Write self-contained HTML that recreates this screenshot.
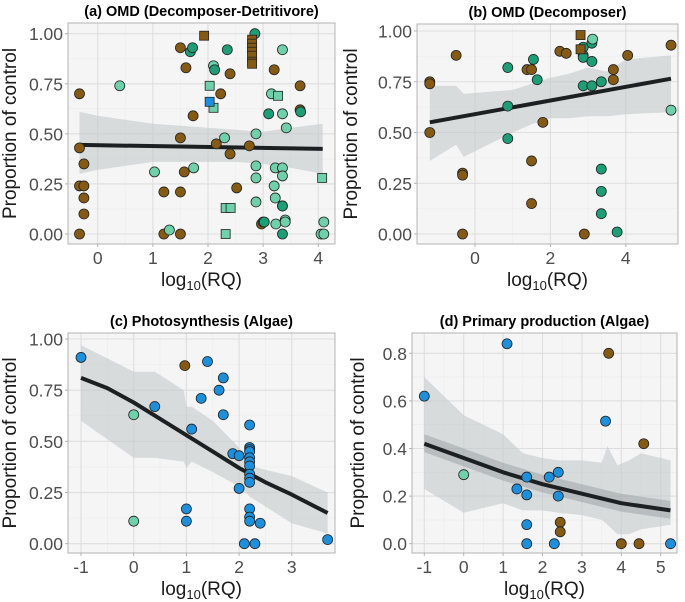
<!DOCTYPE html>
<html><head><meta charset="utf-8">
<style>
body{margin:0;background:#fff;}
svg{display:block;font-family:"Liberation Sans",sans-serif;}
</style></head>
<body>
<svg id="fig" width="685" height="602" viewBox="0 0 685 602"></svg>
<script>
// ---- Panel (a) data ----
const aBrownCircX=[-0.33,-0.33,-0.33,-0.25,-0.25,-0.25,-0.25,-0.33,1.2,1.2,1.5,1.5,1.5,1.5,1.6,1.57,1.73,2.15,2.23,2.4,2.4,2.52,2.75,2.97,3.0,3.2,3.67,3.67];
const aBrownCircY=[0.70,0.43,0.24,0.24,0.35,0.18,0.10,0,0.21,0,0.93,0.48,0.21,0,0.83,0.31,0.59,0.45,0.70,0.80,0.40,0.23,0.44,0.05,0.06,0.82,0.74,0.62];
const aTealCircX=[0.4,1.03,1.3,1.74,2.1,2.3,2.87,2.87,2.87,2.87,3.15,3.2,3.22,3.22,3.23,3.35,3.35,3.35,3.35,3.35,3.4,3.4,3.42,4.05,4.1,4.1];
const aTealCircY=[0.74,0.31,0.02,0.33,0.84,0.48,0.50,0.34,0.28,0.16,0.70,0.24,0.33,0.18,0.05,0.92,0.60,0.33,0.29,0.14,0.07,0.06,0.53,0,0,0.06];
const aGreenCircX=[1.68,1.72,2.12,2.35,2.85,3.02,3.1,3.35,3.35,3.68];
const aGreenCircY=[0.91,0.93,0.82,0.92,1.0,0.06,0.60,0,0.14,0.61];
const aBrownSqX=[1.93,2.8,2.8,2.8,2.8,2.8,2.8,2.8];
const aBrownSqY=[0.99,0.97,0.95,0.93,0.91,0.89,0.86,0.85];
const aTealSqX=[2.03,2.1,2.32,2.41,2.32,3.27,4.07];
const aTealSqY=[0.74,0.63,0.13,0.13,0,0.69,0.28];
const aBlueSqX=[2.03];
const aBlueSqY=[0.66];
const aFitX=[-0.33,4.08];
const aFitY=[0.445,0.425];
const aRibX=[-0.33,0,0.5,1,1.5,2,2.5,3,3.5,4.08];
const aRibHi=[0.61,0.59,0.57,0.55,0.54,0.53,0.52,0.51,0.53,0.55];
const aRibLo=[0.30,0.32,0.34,0.36,0.36,0.36,0.36,0.35,0.33,0.30];

// ---- Panel (b) data ----
const bBrownCircX=[-1.2,-1.2,-1.2,-0.5,-0.33,-0.33,-0.33,1.38,1.5,1.5,1.5,1.8,2.25,2.42,2.9,3.67,3.67,4.05,5.2];
const bBrownCircY=[0.75,0.74,0.50,0.88,0.30,0.29,0,0.81,0.81,0.36,0.15,0.55,0.90,0.89,0,0.81,0.76,0.88,0.93];
const bGreenCircX=[0.87,0.87,0.87,1.55,1.65,2.87,2.87,2.87,2.87,3.1,3.1,3.1,3.35,3.35,3.35,3.35,3.77];
const bGreenCircY=[0.82,0.63,0.47,0.86,0.76,0.92,0.88,0.87,0.73,0.94,0.85,0.73,0.75,0.32,0.21,0.10,0.01];
const bTealCircX=[5.2,3.12];
const bTealCircY=[0.61,0.96];
const bBrownSqX=[2.8,2.8];
const bBrownSqY=[0.98,0.91];
const bFitX=[-1.2,5.2];
const bFitY=[0.55,0.765];
const bRibX=[-1.2,-0.5,-0.3,1,1.5,2,2.5,3,3.5,4,5.2];
const bRibHi=[0.73,0.73,0.69,0.71,0.74,0.77,0.79,0.82,0.80,0.86,0.88];
const bRibLo=[0.36,0.44,0.38,0.50,0.54,0.57,0.57,0.58,0.58,0.59,0.60];

// ---- Panel (c) data ----
const cBlueCircX=[-1,0.4,1,1,1.1,1.28,1.4,1.62,1.7,1.7,1.88,2.0,2.0,2.1,2.2,2.2,2.2,2.2,2.2,2.2,2.2,2.2,2.2,2.2,2.2,2.2,2.2,2.3,2.4,3.68];
const cBlueCircY=[0.91,0.67,0.17,0.11,0.56,0.71,0.89,0.75,0.81,0.63,0.44,0.43,0.27,0,0.58,0.47,0.46,0.45,0.42,0.40,0.38,0.34,0.32,0.30,0.17,0.13,0.11,0,0.10,0.02];
const cBrownCircX=[0.97];
const cBrownCircY=[0.87];
const cTealCircX=[0,0];
const cTealCircY=[0.63,0.11];
const cFitX=[-1,-0.5,0,0.5,1,1.5,2,2.5,3,3.68];
const cFitY=[0.81,0.76,0.69,0.61,0.53,0.45,0.37,0.30,0.24,0.15];
const cRibX=[-1,0,0.4,0.95,1.0,1.1,1.5,2,2.2,3,3.68];
const cRibHi=[0.97,0.84,0.84,0.75,0.67,0.67,0.60,0.47,0.38,0.33,0.25];
const cRibLo=[0.60,0.42,0.42,0.40,0.37,0.40,0.35,0.28,0.23,0.10,0.05];

// ---- Panel (d) data ----
const dBlueCircX=[-1,1.1,1.35,1.6,1.6,1.6,1.6,2.17,2.3,2.4,2.4,3.6,5.25];
const dBlueCircY=[0.62,0.84,0.23,0.28,0.205,0.08,0,0.28,0,0.30,0.20,0.515,0];
const dBrownCircX=[2.45,2.45,3.68,4.0,4.45,4.57];
const dBrownCircY=[0.09,0.05,0.80,0,0,0.42];
const dTealCircX=[0];
const dTealCircY=[0.29];
const dFitX=[-1,0,1,2,3,4,5.25];
const dFitY=[0.42,0.36,0.30,0.25,0.21,0.17,0.14];
const dRibX=[-1,0,1,1.5,2,2.4,3,3.5,3.65,3.9,4.2,4.5,5.25];
const dRibHi=[0.70,0.54,0.46,0.38,0.36,0.35,0.35,0.34,0.41,0.33,0.35,0.38,0.35];
const dRibLo=[0.23,0.13,0.17,0.14,0.14,0.13,0.12,0.10,0.08,0.04,0.04,0.06,0.08];

const COL={brown:'#855a14',teal:'#6fd0a9',green:'#1d9e76',blue:'#1e8fdb'};
const NS='http://www.w3.org/2000/svg';
const svg=document.getElementById('fig');
function mk(tag,attrs,parent){const e=document.createElementNS(NS,tag);for(const k in attrs)e.setAttribute(k,attrs[k]);(parent||svg).appendChild(e);return e;}

function panel(cfg){
  const g=mk('g',{});
  
  
  const sx=v=>cfg.x0+v*cfg.xs;
  const sy=v=>cfg.y0-v*cfg.ys;
  const bg=mk('rect',{x:cfg.L,y:cfg.T,width:cfg.R-cfg.L,height:cfg.B-cfg.T,fill:'#f5f5f5',stroke:'none'},g);
  
  
  for(let i=0;i<cfg.xt.length-1;i++){const m=(cfg.xt[i]+cfg.xt[i+1])/2;mk('line',{x1:sx(m),x2:sx(m),y1:cfg.T,y2:cfg.B,stroke:'#ececec','stroke-width':0.6},g);}
  for(let i=0;i<cfg.yt.length-1;i++){const m=(cfg.yt[i]+cfg.yt[i+1])/2;mk('line',{x1:cfg.L,x2:cfg.R,y1:sy(m),y2:sy(m),stroke:'#ececec','stroke-width':0.6},g);}
  cfg.xt.forEach((t,i)=>{
    mk('line',{x1:sx(t),x2:sx(t),y1:cfg.T,y2:cfg.B,stroke:'#dedede','stroke-width':1.1},g);
    mk('line',{x1:sx(t),x2:sx(t),y1:cfg.B,y2:cfg.B+3,stroke:'#b3b3b3','stroke-width':1},g);
    const tx=mk('text',{x:sx(t),y:cfg.B+20,'text-anchor':'middle','font-size':17.5,fill:'#4d4d4d'},g);
    tx.textContent=cfg.xl[i];
    
    
  });
  cfg.yt.forEach((t,i)=>{
    mk('line',{x1:cfg.L,x2:cfg.R,y1:sy(t),y2:sy(t),stroke:'#dedede','stroke-width':1.1},g);
    mk('line',{x1:cfg.L-3,x2:cfg.L,y1:sy(t),y2:sy(t),stroke:'#b3b3b3','stroke-width':1},g);
    const ty=mk('text',{x:cfg.L-5,y:sy(t)+6.5,'text-anchor':'end','font-size':17.5,fill:'#4d4d4d'},g);
    ty.textContent=cfg.yl[i];
    
    
  });
  cfg.ribbons.forEach(r=>{
    let d='';
    r.x.forEach((v,i)=>{d+=(i?'L':'M')+sx(v).toFixed(1)+','+sy(r.hi[i]).toFixed(1);});
    for(let i=r.x.length-1;i>=0;i--)d+='L'+sx(r.x[i]).toFixed(1)+','+sy(r.lo[i]).toFixed(1);
    const p=mk('path',{d:d+'Z',fill:r.fill,'fill-opacity':r.op},g);
    
    
  });
  let d='';
  cfg.fitX.forEach((v,i)=>{d+=(i?'L':'M')+sx(v).toFixed(1)+','+sy(cfg.fitY[i]).toFixed(1);});
  const fl=mk('path',{d:d,fill:'none',stroke:'#1c2022','stroke-width':4,'stroke-linecap':'butt','stroke-linejoin':'round'},g);
  
  
  cfg.series.forEach(s=>{
    s.x.forEach((v,i)=>{
      let e;
      if(s.shape==='sq'){e=mk('rect',{x:sx(v)-4.5,y:sy(s.y[i])-4.5,width:9,height:9,fill:s.col,stroke:'#222','stroke-width':0.8},g);}
      else{e=mk('circle',{cx:sx(v),cy:sy(s.y[i]),r:5,fill:s.col,stroke:'#222','stroke-width':0.8},g);}
      
      
    });
  });
  const bd=mk('rect',{x:cfg.L,y:cfg.T,width:cfg.R-cfg.L,height:cfg.B-cfg.T,fill:'none',stroke:'#b3b3b3','stroke-width':1},g);
  
  
  const ti=mk('text',{x:(cfg.L+cfg.R)/2,y:cfg.T-7,'text-anchor':'middle','font-size':14.5,'font-weight':'bold',fill:'#000'},g);
  ti.textContent=cfg.title;
  
  
  const xt=mk('text',{x:(cfg.L+cfg.R)/2,y:cfg.B+42,'text-anchor':'middle','font-size':19,fill:'#1a1a1a'},g);
  xt.innerHTML='log<tspan font-size="13" dy="4">10</tspan><tspan dy="-4">(RQ)</tspan>';
  
  
  const cy=(cfg.T+cfg.B)/2;
  const yt=mk('text',{x:cfg.yx,y:cy,'text-anchor':'middle','font-size':19,fill:'#1a1a1a',transform:`rotate(-90 ${cfg.yx} ${cy})`},g);
  yt.textContent='Proportion of control';
  
  
}
const yq=[0,0.25,0.5,0.75,1],yql=['0.00','0.25','0.50','0.75','1.00'];
panel({name:'panel-a',title:'(a) OMD (Decomposer-Detritivore)',L:68,R:335,T:23,B:244,x0:97.7,xs:55.15,y0:234,ys:200.3,
  xt:[0,1,2,3,4],xl:['0','1','2','3','4'],yt:yq,yl:yql,yx:16,
  ribbons:[{x:aRibX,hi:aRibHi,lo:aRibLo,fill:'#c3c9cc',op:0.6}],fitX:aFitX,fitY:aFitY,
  series:[{x:aBrownCircX,y:aBrownCircY,col:COL.brown},{x:aTealCircX,y:aTealCircY,col:COL.teal},{x:aGreenCircX,y:aGreenCircY,col:COL.green},
  {x:aBrownSqX,y:aBrownSqY,col:COL.brown,shape:'sq'},{x:aTealSqX,y:aTealSqY,col:COL.teal,shape:'sq'},{x:aBlueSqX,y:aBlueSqY,col:COL.blue,shape:'sq'}]});
panel({name:'panel-b',title:'(b) OMD (Decomposer)',L:417,R:678,T:24,B:244,x0:475,xs:37.7,y0:234,ys:203,
  xt:[0,2,4],xl:['0','2','4'],yt:yq,yl:yql,yx:357,
  ribbons:[{x:bRibX,hi:bRibHi,lo:bRibLo,fill:'#c3c9cc',op:0.6}],fitX:bFitX,fitY:bFitY,
  series:[{x:bBrownCircX,y:bBrownCircY,col:COL.brown},{x:bGreenCircX,y:bGreenCircY,col:COL.green},{x:bTealCircX,y:bTealCircY,col:COL.teal},
  {x:bBrownSqX,y:bBrownSqY,col:COL.brown,shape:'sq'}]});
panel({name:'panel-c',title:'(c) Photosynthesis (Algae)',L:68,R:335,T:333,B:553,x0:133.7,xs:52.7,y0:543.7,ys:204.7,
  xt:[-1,0,1,2,3],xl:['-1','0','1','2','3'],yt:yq,yl:yql,yx:16,
  ribbons:[{x:cRibX,hi:cRibHi,lo:cRibLo,fill:'#c3c9cc',op:0.6}],fitX:cFitX,fitY:cFitY,
  series:[{x:cBlueCircX,y:cBlueCircY,col:COL.blue},{x:cBrownCircX,y:cBrownCircY,col:COL.brown},{x:cTealCircX,y:cTealCircY,col:COL.teal}]});
const dInHi=dFitY.map(v=>v+0.04), dInLo=dFitY.map(v=>v-0.035);
panel({name:'panel-d',title:'(d) Primary production (Algae)',L:412,R:677,T:333,B:553,x0:463.7,xs:39.4,y0:543.7,ys:238,
  xt:[-1,0,1,2,3,4,5],xl:['-1','0','1','2','3','4','5'],yt:[0,0.2,0.4,0.6,0.8],yl:['0.0','0.2','0.4','0.6','0.8'],yx:364,
  ribbons:[{x:dRibX,hi:dRibHi,lo:dRibLo,fill:'#c3c9cc',op:0.6},{x:dFitX,hi:dInHi,lo:dInLo,fill:'#8a9296',op:0.4}],fitX:dFitX,fitY:dFitY,
  series:[{x:dBlueCircX,y:dBlueCircY,col:COL.blue},{x:dBrownCircX,y:dBrownCircY,col:COL.brown},{x:dTealCircX,y:dTealCircY,col:COL.teal}]});
</script>
</body></html>
